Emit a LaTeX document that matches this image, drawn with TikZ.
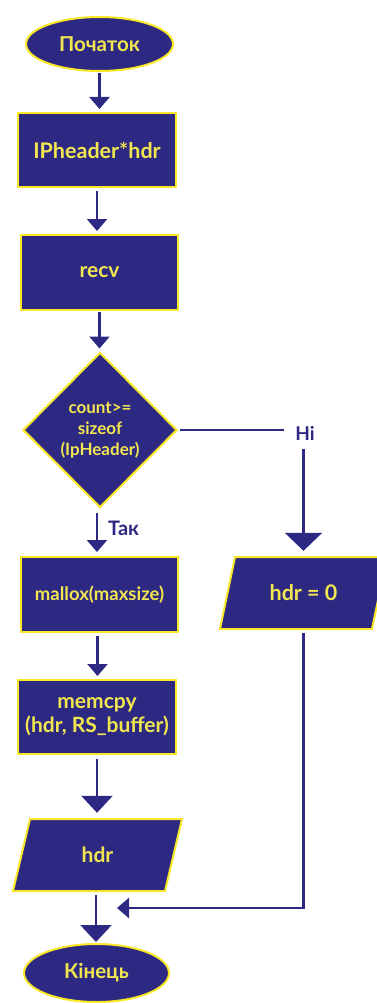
\documentclass[tikz,border=0pt]{standalone}
\usepackage{fontspec}
\setmainfont{Lato}
\usetikzlibrary{shapes.geometric,arrows.meta}
\definecolor{navy}{RGB}{45,41,130}
\definecolor{gold}{RGB}{250,232,40}
\definecolor{goldtext}{RGB}{242,230,80}
\begin{document}
\begin{tikzpicture}[x=1pt,y=-1pt,
  blk/.style={draw=gold, fill=navy, line width=2pt, text=goldtext,
    inner sep=0pt, align=center},
  procbox/.style={blk, rectangle, minimum width=#1, minimum height=74pt},
  termbox/.style={blk, ellipse},
  decbox/.style={blk, diamond, minimum width=154pt, minimum height=155pt},
  iopath/.style={draw=gold, fill=navy, line width=2pt, line join=miter},
  iotext/.style={text=goldtext, inner sep=0pt, minimum width=152pt, minimum height=72pt},
  lbl/.style={text=navy, font=\bfseries\fontsize{#1}{#1}\selectfont},
  conn/.style={draw=navy, line width=2.5pt},
  arr/.style={conn, -{Triangle[width=20pt,length=12pt]}},
  bigarr/.style={conn, -{Triangle[width=31pt,length=17pt]}},
  hugearr/.style={conn, -{Triangle[width=37pt,length=18pt]}}
]
\useasboundingbox (0,0) rectangle (377,1003);

% main column
\node[termbox, font=\bfseries\fontsize{20.5}{24}\selectfont, minimum width=147pt, minimum height=54pt] (start) at (99.5,44) {Початок};
\node[procbox=158pt, font=\bfseries\fontsize{21.5}{26}\selectfont] (decl) at (97,150) {IPheader*hdr};
\node[procbox=157pt, minimum height=75pt, font=\bfseries\fontsize{21}{25}\selectfont] (recv) at (99.5,272.5) {recv};
\node[decbox, font=\bfseries\fontsize{17}{21}\selectfont] (cond) at (100,430) {count>=\\sizeof\\(IpHeader)};
\node[procbox=157pt, minimum height=75pt, font=\bfseries\fontsize{18.5}{22}\selectfont] (alloc) at (99.5,594.5) {mallox(maxsize)};
\node[procbox=158pt, font=\bfseries\fontsize{21}{24}\selectfont] (copy) at (97,717) {memcpy\\(hdr, RS\_buffer)};

% output block "hdr"
\path[iopath] (13,891) -- (30,819) -- (182,819) -- (165,891) -- cycle;
\node[iotext, font=\bfseries\fontsize{21}{25}\selectfont] (out) at (97.5,855) {hdr};

\node[termbox, font=\bfseries\fontsize{20.5}{24}\selectfont, minimum width=145pt, minimum height=58pt] (finish) at (96.5,973) {Кінець};

% side branch block "hdr = 0"
\path[iopath] (220,629) -- (235,557) -- (387,557) -- (372,629) -- cycle;
\node[iotext, font=\bfseries\fontsize{21.5}{26}\selectfont] (zero) at (303.5,593) {hdr = 0};

% labels
\node[lbl=20, anchor=west, inner sep=0pt] (yes) at (108,528) {Так};
\node[lbl=19, inner xsep=11pt, inner ysep=9pt] (no) at (305,433) {Ні};
\coordinate (join) at (117,908);

% connectors
\draw[arr, shorten <=1pt, shorten >=3pt] (start.south) -- (start.south |- decl.north);
\draw[arr, shorten <=3pt, shorten >=3pt] (decl.south) -- (decl.south |- recv.north);
\draw[arr, shorten <=1pt, shorten >=3pt] (recv.south) -- (recv.south |- cond.north);
\draw[arr, shorten <=4pt, shorten >=4pt] ([xshift=-3pt]cond.south) -- ([xshift=-3pt]cond.south |- alloc.north);
\draw[arr, shorten <=3pt, shorten >=3pt] ([xshift=-2pt]alloc.south) -- ([xshift=-2pt]alloc.south |- copy.north);
\draw[bigarr, shorten <=4pt, shorten >=6pt] (copy.south) -- (copy.south |- out.north);
\draw[bigarr, shorten <=4pt, shorten >=1pt] ([xshift=-1.5pt]out.south) -- ([xshift=-1.5pt]out.south |- finish.north);

\draw[conn, shorten <=2pt] (cond.east) -- (cond.east -| no.west);
\draw[hugearr, shorten >=6pt] (no.south -| zero.north) -- (zero.north);
\draw[arr, shorten <=4pt] (zero.south) |- (join);
\end{tikzpicture}
\end{document}
